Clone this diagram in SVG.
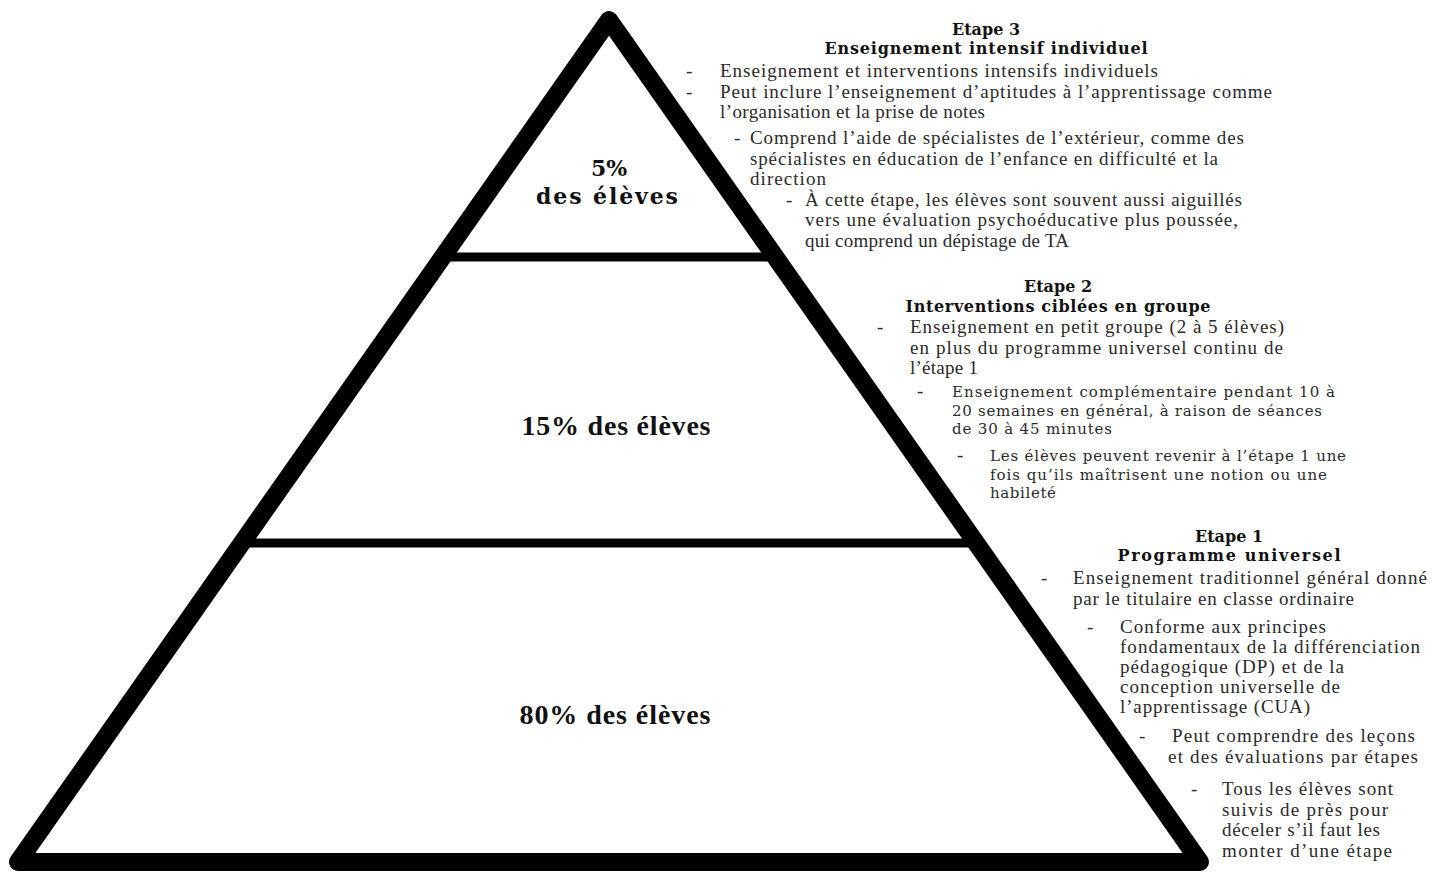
<svg xmlns="http://www.w3.org/2000/svg" width="1433" height="873" viewBox="0 0 1433 873">
<style>
.pyr{fill:#fff;stroke:#000;stroke-width:18;stroke-linejoin:round}
.div{stroke:#000;stroke-width:9}
.lbl{font-family:"Liberation Serif","DejaVu Serif",serif;font-weight:bold;font-size:28px;fill:#111;text-anchor:middle}
.sm{font-family:"DejaVu Serif","Liberation Serif",serif;font-size:22px}
.h{font-family:"DejaVu Serif","Liberation Serif",serif;font-weight:bold;font-size:16px;fill:#111;text-anchor:middle}
.t{font-family:"Liberation Serif","DejaVu Serif",serif;font-size:19px;fill:#2a2a2a}
.s{font-family:"DejaVu Serif","Liberation Serif",serif;font-size:15px}
</style>
<rect width="1433" height="873" fill="#fff"/>
<g id="pyramid">
<polygon class="pyr" points="609,20 18,862 1200,862"/>
<line class="div" x1="450" y1="257" x2="768" y2="257"/>
<line class="div" x1="248" y1="543" x2="970" y2="543"/>
</g>
<g id="tier3-label">
<text class="lbl sm" x="609" y="176">5%</text>
<text class="lbl sm" x="607" y="204" textLength="142">des élèves</text>
</g>
<g id="tier2-label">
<text class="lbl" x="616" y="435" textLength="189">15% des élèves</text>
</g>
<g id="tier1-label">
<text class="lbl" x="615" y="724" textLength="191">80% des élèves</text>
</g>
<g id="etape3">
<text class="h" x="986" y="35">Etape 3</text>
<text class="h" x="986" y="54" textLength="323">Enseignement intensif individuel</text>
<text class="t" x="686" y="77">-</text>
<text class="t" x="720" y="77" textLength="438">Enseignement et interventions intensifs individuels</text>
<text class="t" x="686" y="98">-</text>
<text class="t" x="720" y="98" textLength="552">Peut inclure l’enseignement d’aptitudes à l’apprentissage comme</text>
<text class="t" x="720" y="118" textLength="265">l’organisation et la prise de notes</text>
<text class="t" x="734" y="144">-</text>
<text class="t" x="750" y="144" textLength="494">Comprend l’aide de spécialistes de l’extérieur, comme des</text>
<text class="t" x="750" y="164.5" textLength="468">spécialistes en éducation de l’enfance en difficulté et la</text>
<text class="t" x="750" y="185" textLength="76">direction</text>
<text class="t" x="786" y="205.5">-</text>
<text class="t" x="805" y="205.5" textLength="437">À cette étape, les élèves sont souvent aussi aiguillés</text>
<text class="t" x="805" y="226" textLength="433">vers une évaluation psychoéducative plus poussée,</text>
<text class="t" x="805" y="246.5" textLength="264">qui comprend un dépistage de TA</text>
</g>
<g id="etape2">
<text class="h" x="1058" y="292">Etape 2</text>
<text class="h" x="1058" y="312" textLength="305">Interventions ciblées en groupe</text>
<text class="t" x="877" y="333">-</text>
<text class="t" x="910" y="333" textLength="374">Enseignement en petit groupe (2 à 5 élèves)</text>
<text class="t" x="910" y="353.5" textLength="373">en plus du programme universel continu de</text>
<text class="t" x="910" y="374" textLength="68">l’étape 1</text>
<text class="t" x="917" y="397">-</text>
<text class="t s" x="952" y="397" textLength="383">Enseignement complémentaire pendant 10 à</text>
<text class="t s" x="952" y="415.5" textLength="370">20 semaines en général, à raison de séances</text>
<text class="t s" x="952" y="434" textLength="160">de 30 à 45 minutes</text>
<text class="t" x="957" y="461">-</text>
<text class="t s" x="990" y="461" textLength="356">Les élèves peuvent revenir à l’étape 1 une</text>
<text class="t s" x="990" y="479.5" textLength="337">fois qu’ils maîtrisent une notion ou une</text>
<text class="t s" x="990" y="498" textLength="66">habileté</text>
</g>
<g id="etape1">
<text class="h" x="1229" y="542">Etape 1</text>
<text class="h" x="1229" y="561" textLength="223">Programme universel</text>
<text class="t" x="1041" y="584">-</text>
<text class="t" x="1073" y="584" textLength="354">Enseignement traditionnel général donné</text>
<text class="t" x="1073" y="605" textLength="281">par le titulaire en classe ordinaire</text>
<text class="t" x="1087" y="633">-</text>
<text class="t" x="1120" y="633" textLength="206">Conforme aux principes</text>
<text class="t" x="1120" y="653" textLength="300">fondamentaux de la différenciation</text>
<text class="t" x="1120" y="673" textLength="224">pédagogique (DP) et de la</text>
<text class="t" x="1120" y="693" textLength="220">conception universelle de</text>
<text class="t" x="1120" y="713" textLength="190">l’apprentissage (CUA)</text>
<text class="t" x="1139" y="742">-</text>
<text class="t" x="1172" y="742" textLength="243">Peut comprendre des leçons</text>
<text class="t" x="1168" y="763" textLength="250">et des évaluations par étapes</text>
<text class="t" x="1191" y="795">-</text>
<text class="t" x="1222" y="795" textLength="171">Tous les élèves sont</text>
<text class="t" x="1222" y="815.5" textLength="166">suivis de près pour</text>
<text class="t" x="1222" y="836" textLength="158">déceler s’il faut les</text>
<text class="t" x="1222" y="857" textLength="170">monter d’une étape</text>
</g>
</svg>
